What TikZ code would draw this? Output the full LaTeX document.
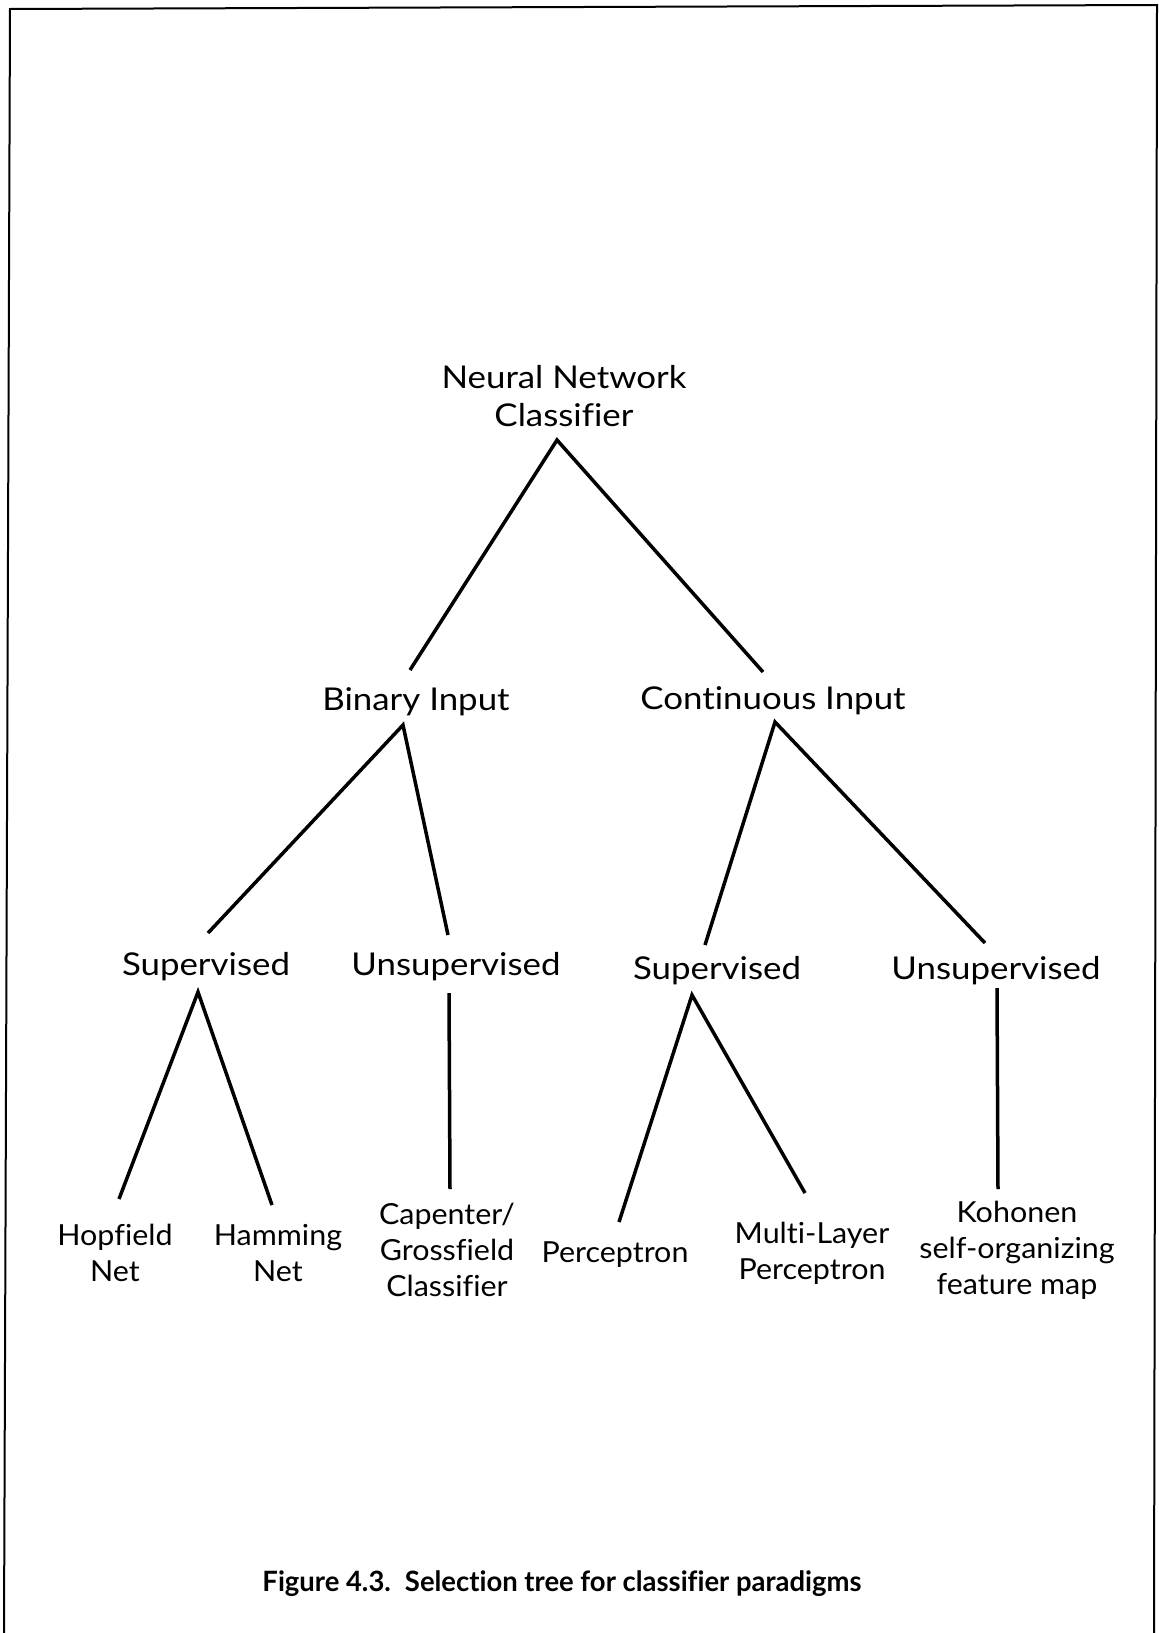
\documentclass[tikz,border=0pt]{standalone}
\usepackage{fontspec}
\setmainfont{Lato}[Ligatures=NoCommon]
\newfontfamily\midfont{Lato}[FakeStretch=1.11, Ligatures=NoCommon]
\newfontfamily\leaffont{Lato}[FakeStretch=1.05, Ligatures=NoCommon]
\newfontfamily\titlefont{Lato}[FakeStretch=0.98, Ligatures=NoCommon]
\usetikzlibrary{calc}
\begin{document}
\begin{tikzpicture}[x=1pt,y=-1pt,
  lbl/.style={inner sep=0pt, align=center},
  upper/.style={lbl, font=\midfont\fontsize{31.4}{38}\selectfont},
  leaf/.style={lbl, font=\leaffont\fontsize{29}{36}\selectfont},
  edge/.style={line width=3.5pt, line join=miter},
  frame/.style={line width=2pt}]
\useasboundingbox (0,0) rectangle (1159,1633);
\fill[white] (0,0) rectangle (1159,1633);
% page frame (open at the bottom)
\draw[frame] (4,1633) -- (10,9) -- (1157,5) -- (1154,1633);

% root
\node[upper, anchor=north] (root) at (564,365) {Neural Network\\Classifier};
% input type
\node[upper, anchor=base] (bin)  at (416,710) {Binary Input};
\node[upper, anchor=base] (cont) at (773,709) {Continuous Input};
% training mode
\node[upper, anchor=base] (supL) at (206,975) {Supervised};
\node[upper, anchor=base] (unsL) at (456,975) {Unsupervised};
\node[upper, anchor=base] (supR) at (717,979) {Supervised};
\node[upper, anchor=base] (unsR) at (996,979) {Unsupervised};
% paradigms
\node[leaf, anchor=north] (hop)  at (115,1224) {Hopfield\\Net};
\node[leaf, anchor=north] (ham)  at (278,1224) {Hamming\\Net};
\node[leaf, anchor=north] (carp) at (447,1203) {Capenter/\\Grossfield\\Classifier};
\node[leaf, anchor=base]  (perc) at (615,1262) {Perceptron};
\node[leaf, anchor=north] (mlp)  at (812,1222) {Multi-Layer\\Perceptron};
\node[leaf, anchor=north] (koh)  at (1017,1201) {Kohonen\\self-organizing\\feature map};

% caption
\node[inner sep=0pt, anchor=base, font=\titlefont\fontsize{28}{30}\selectfont\bfseries] (fig) at (562,1591)
  {Figure 4.3.\hspace{14pt}Selection tree for classifier paradigms};

% branches
\draw[edge] ($(bin.base)+(-6,-40)$) -- ($(root.north)+(-7,75)$) -- ($(cont.base)+(-10,-37)$);
\draw[edge] ($(supL.base)+(2,-42)$) -- ($(bin.base)+(-13,15)$) -- ($(unsL.base)+(-8,-40)$);
\draw[edge] ($(supR.base)+(-12,-34)$) -- ($(cont.base)+(2,13)$) -- ($(unsR.base)+(-11,-36)$);
\draw[edge] ($(hop.north)+(4,-25)$) -- ($(supL.base)+(-8,17)$) -- ($(ham.north)+(-6,-19)$);
\draw[edge] ($(unsL.base)+(-7,18)$) -- ($(carp.north)+(3,-14)$);
\draw[edge] ($(perc.base)+(4,-40)$) -- ($(supR.base)+(-25,16)$) -- ($(mlp.north)+(-7,-29)$);
\draw[edge] ($(unsR.base)+(1,9)$) -- ($(koh.north)+(-19,-12)$);
\end{tikzpicture}
\end{document}
